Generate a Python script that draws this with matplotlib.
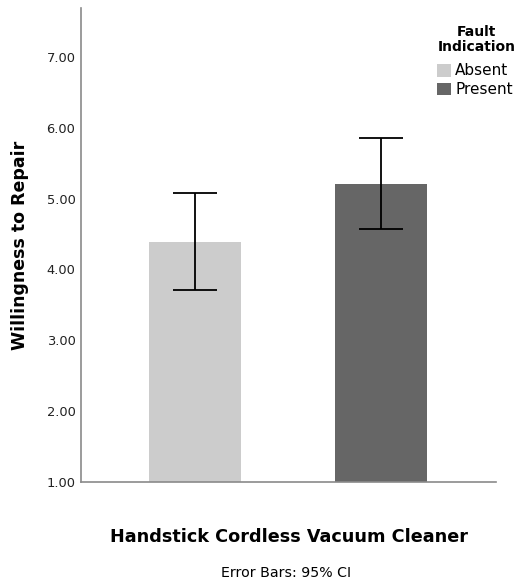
import matplotlib
matplotlib.use("Agg")
import matplotlib.pyplot as plt
from matplotlib.patches import Patch

# Means and 95% CI
groups = ["Absent", "Present"]
means = [4.39, 5.21]
ci_low = [3.71, 4.57]
ci_high = [5.08, 5.85]
colours = ["#cccccc", "#666666"]
yticks = [1, 2, 3, 4, 5, 6, 7]

plt.rcParams["font.family"] = ["DejaVu Sans"]

fig = plt.figure(figsize=(5.16, 5.81), dpi=100)
ax = fig.add_axes([0.157, 0.1704, 0.804, 0.816])

x = list(range(len(groups)))
err = [[m - lo for m, lo in zip(means, ci_low)],
       [hi - m for m, hi in zip(means, ci_high)]]
ax.bar(x, [m - 1 for m in means], bottom=1, width=0.493, color=colours, zorder=2)
ax.errorbar(x, means, yerr=err, fmt="none", ecolor="black", elinewidth=1.3,
            capsize=16, capthick=1.3, zorder=3)

ax.set_xlim(-0.611, 1.614)
ax.set_ylim(1, 7.69)
ax.set_yticks(yticks)
ax.set_yticklabels([f"{v:.2f}" for v in yticks], fontsize=9.4, color="#222222")
ax.set_xticks([])
ax.tick_params(axis="y", length=0, pad=4)
for s in ["top", "right"]:
    ax.spines[s].set_visible(False)
for s in ["left", "bottom"]:
    ax.spines[s].set_color("#8a8a8a")
    ax.spines[s].set_linewidth(1.2)

fig.text(0.039, 0.577, "Willingness to Repair", rotation=90, ha="center", va="center",
         fontsize=12.5, fontweight="bold")
fig.text(0.560, 0.0757, "Handstick Cordless Vacuum Cleaner", ha="center", va="center",
         fontsize=12.7, fontweight="bold")
fig.text(0.554, 0.0138, "Error Bars: 95% CI", ha="center", va="center", fontsize=10.2)

# legend title drawn separately so the gap above the entries matches
fig.text(0.923, 0.932, "Fault\nIndication", ha="center", va="center", fontsize=10,
         fontweight="bold", multialignment="center", linespacing=1.05)
handles = [Patch(facecolor=c, label=g) for g, c in zip(groups, colours)]
leg = fig.legend(handles=handles, loc="upper right",
                 bbox_to_anchor=(1.0, 0.896), frameon=False, fontsize=11,
                 handlelength=0.9, handleheight=0.9, handletextpad=0.3,
                 labelspacing=0.25, borderaxespad=0.1, borderpad=0.1)

fig.savefig("out.png", dpi=100)
